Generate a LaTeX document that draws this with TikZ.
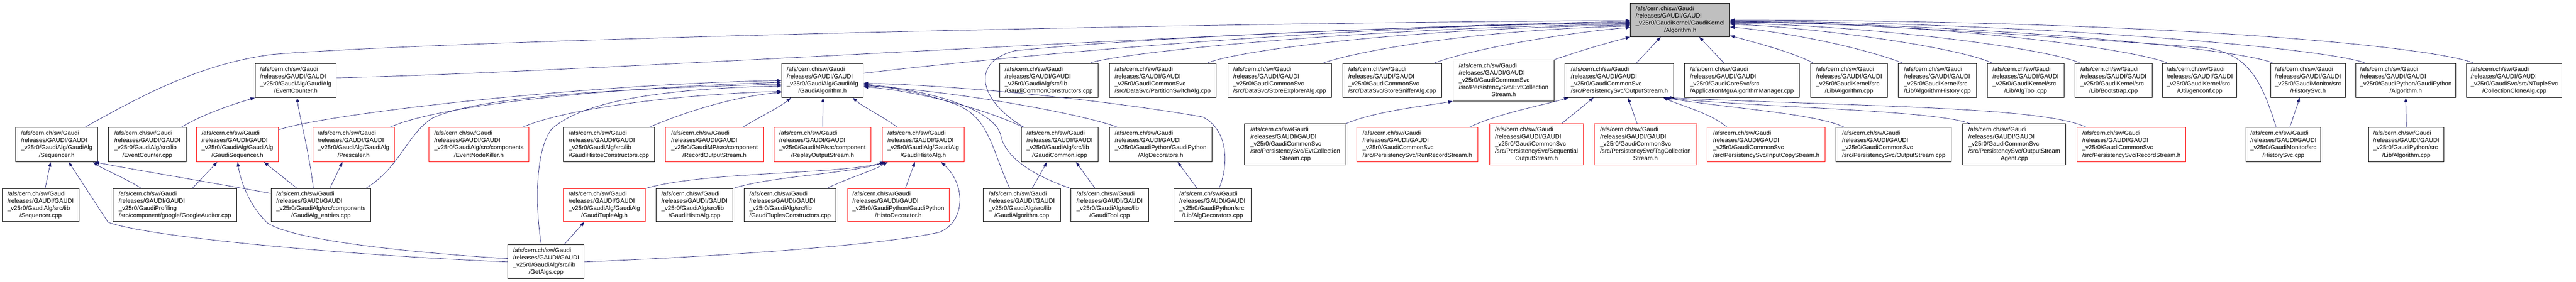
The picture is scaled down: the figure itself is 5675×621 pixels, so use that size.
\documentclass[tikz,border=0pt]{standalone}
\usepackage{fontspec}
\setmainfont{Liberation Sans}
\usetikzlibrary{arrows.meta}
\definecolor{edgec}{HTML}{191970}
\definecolor{redc}{HTML}{FF0000}
\definecolor{grayc}{HTML}{BFBFBF}
\newcommand\lastln[1]{\multicolumn{1}{@{}c@{}}{#1}}
\newcommand\ftxt[2]{\begin{tabular}{@{}l@{}}/afs/cern.ch/sw/Gaudi\\/releases/GAUDI/GAUDI\\#1\\\lastln{#2}\end{tabular}}
\newcommand\ftxtv[3]{\begin{tabular}{@{}l@{}}/afs/cern.ch/sw/Gaudi\\/releases/GAUDI/GAUDI\\#1\\#2\\\lastln{#3}\end{tabular}}
\newcommand\mknode[7]{\node[#2, minimum width={#5-#3}, minimum height={#6-#4}] (#1) at ({(#3+#5)/2},{(#4+#6)/2}) {#7};}
\tikzset{
  fbox/.style={draw=black, line width=1pt, inner sep=0pt, fill=white, font=\fontsize{13.3}{16}\selectfont},
  rbox/.style={fbox, draw=redc},
  gbox/.style={fbox, fill=grayc},
  dep/.style={draw=edgec, line width=0.8pt, -{Triangle[length=10pt,width=7pt]}}
}
\begin{document}
\begin{tikzpicture}[x=1pt,y=-1pt]
\useasboundingbox[fill=white] (0,0) rectangle (5675,621);
% level 0
\mknode{alg}{gbox}{3592}{7}{3811}{81}{\ftxt{\_v25r0/GaudiKernel/GaudiKernel}{/Algorithm.h}}
% level 1
\mknode{ech}{fbox}{562}{140}{741}{215}{\ftxt{\_v25r0/GaudiAlg/GaudiAlg}{/EventCounter.h}}
\mknode{gah}{fbox}{1722}{140}{1902}{215}{\ftxt{\_v25r0/GaudiAlg/GaudiAlg}{/GaudiAlgorithm.h}}
\mknode{gcc}{fbox}{2202}{140}{2419}{215}{\ftxt{\_v25r0/GaudiAlg/src/lib}{/GaudiCommonConstructors.cpp}}
\mknode{psa}{fbox}{2444}{140}{2679}{215}{\ftxt{\_v25r0/GaudiCommonSvc}{/src/DataSvc/PartitionSwitchAlg.cpp}}
\mknode{sea}{fbox}{2705}{140}{2933}{215}{\ftxt{\_v25r0/GaudiCommonSvc}{/src/DataSvc/StoreExplorerAlg.cpp}}
\mknode{ssa}{fbox}{2958}{140}{3176}{215}{\ftxt{\_v25r0/GaudiCommonSvc}{/src/DataSvc/StoreSnifferAlg.cpp}}
\mknode{ecsh}{fbox}{3201}{132}{3424}{223}{\ftxtv{\_v25r0/GaudiCommonSvc}{/src/PersistencySvc/EvtCollection}{Stream.h}}
\mknode{osh}{fbox}{3448}{140}{3687}{215}{\ftxt{\_v25r0/GaudiCommonSvc}{/src/PersistencySvc/OutputStream.h}}
\mknode{amc}{fbox}{3711}{140}{3964}{215}{\ftxt{\_v25r0/GaudiCoreSvc/src}{/ApplicationMgr/AlgorithmManager.cpp}}
\mknode{algc}{fbox}{3989}{140}{4158}{215}{\ftxt{\_v25r0/GaudiKernel/src}{/Lib/Algorithm.cpp}}
\mknode{ahc}{fbox}{4182}{140}{4354}{215}{\ftxt{\_v25r0/GaudiKernel/src}{/Lib/AlgorithmHistory.cpp}}
\mknode{atc}{fbox}{4378}{140}{4547}{215}{\ftxt{\_v25r0/GaudiKernel/src}{/Lib/AlgTool.cpp}}
\mknode{bsc}{fbox}{4571}{140}{4741}{215}{\ftxt{\_v25r0/GaudiKernel/src}{/Lib/Bootstrap.cpp}}
\mknode{gcf}{fbox}{4764}{140}{4928}{215}{\ftxt{\_v25r0/GaudiKernel/src}{/Util/genconf.cpp}}
\mknode{hsh}{fbox}{5002}{140}{5167}{215}{\ftxt{\_v25r0/GaudiMonitor/src}{/HistorySvc.h}}
\mknode{gpah}{fbox}{5190}{140}{5410}{215}{\ftxt{\_v25r0/GaudiPython/GaudiPython}{/Algorithm.h}}
\mknode{cca}{fbox}{5434}{140}{5644}{215}{\ftxt{\_v25r0/GaudiSvc/src/NTupleSvc}{/CollectionCloneAlg.cpp}}
% level 2
\mknode{seqh}{fbox}{35}{281}{215}{357}{\ftxt{\_v25r0/GaudiAlg/GaudiAlg}{/Sequencer.h}}
\mknode{ecc}{fbox}{239}{281}{410}{357}{\ftxt{\_v25r0/GaudiAlg/src/lib}{/EventCounter.cpp}}
\mknode{gsh}{rbox}{433}{281}{613}{357}{\ftxt{\_v25r0/GaudiAlg/GaudiAlg}{/GaudiSequencer.h}}
\mknode{prh}{rbox}{689}{281}{869}{357}{\ftxt{\_v25r0/GaudiAlg/GaudiAlg}{/Prescaler.h}}
\mknode{enk}{rbox}{945}{281}{1165}{357}{\ftxt{\_v25r0/GaudiAlg/src/components}{/EventNodeKiller.h}}
\mknode{ghc}{fbox}{1241}{281}{1442}{357}{\ftxt{\_v25r0/GaudiAlg/src/lib}{/GaudiHistosConstructors.cpp}}
\mknode{rosh}{rbox}{1466}{281}{1682}{357}{\ftxt{\_v25r0/GaudiMP/src/component}{/RecordOutputStream.h}}
\mknode{rpsh}{rbox}{1705}{281}{1919}{357}{\ftxt{\_v25r0/GaudiMP/src/component}{/ReplayOutputStream.h}}
\mknode{ghah}{rbox}{1944}{281}{2124}{357}{\ftxt{\_v25r0/GaudiAlg/GaudiAlg}{/GaudiHistoAlg.h}}
\mknode{gci}{fbox}{2250}{281}{2419}{357}{\ftxt{\_v25r0/GaudiAlg/src/lib}{/GaudiCommon.icpp}}
\mknode{adh}{fbox}{2444}{281}{2670}{357}{\ftxt{\_v25r0/GaudiPython/GaudiPython}{/AlgDecorators.h}}
\mknode{ecsc}{fbox}{2742}{273}{2965}{364}{\ftxtv{\_v25r0/GaudiCommonSvc}{/src/PersistencySvc/EvtCollection}{Stream.cpp}}
\mknode{rrsh}{rbox}{2989}{281}{3256}{357}{\ftxt{\_v25r0/GaudiCommonSvc}{/src/PersistencySvc/RunRecordStream.h}}
\mknode{sosh}{rbox}{3282}{273}{3488}{364}{\ftxtv{\_v25r0/GaudiCommonSvc}{/src/PersistencySvc/Sequential}{OutputStream.h}}
\mknode{tcsh}{rbox}{3512}{273}{3738}{364}{\ftxtv{\_v25r0/GaudiCommonSvc}{/src/PersistencySvc/TagCollection}{Stream.h}}
\mknode{icsh}{rbox}{3761}{281}{4021}{357}{\ftxt{\_v25r0/GaudiCommonSvc}{/src/PersistencySvc/InputCopyStream.h}}
\mknode{osc}{fbox}{4045}{281}{4299}{357}{\ftxt{\_v25r0/GaudiCommonSvc}{/src/PersistencySvc/OutputStream.cpp}}
\mknode{osac}{fbox}{4324}{273}{4551}{364}{\ftxtv{\_v25r0/GaudiCommonSvc}{/src/PersistencySvc/OutputStream}{Agent.cpp}}
\mknode{rsh}{rbox}{4576}{281}{4815}{357}{\ftxt{\_v25r0/GaudiCommonSvc}{/src/PersistencySvc/RecordStream.h}}
\mknode{hsc}{fbox}{4948}{281}{5113}{357}{\ftxt{\_v25r0/GaudiMonitor/src}{/HistorySvc.cpp}}
\mknode{gpac}{fbox}{5218}{281}{5384}{357}{\ftxt{\_v25r0/GaudiPython/src}{/Lib/Algorithm.cpp}}
% level 3
\mknode{seqc}{fbox}{5}{416}{174}{489}{\ftxt{\_v25r0/GaudiAlg/src/lib}{/Sequencer.cpp}}
\mknode{gac}{fbox}{249}{416}{522}{489}{\ftxt{\_v25r0/GaudiProfiling}{/src/component/google/GoogleAuditor.cpp}}
\mknode{gae}{fbox}{597}{416}{817}{489}{\ftxt{\_v25r0/GaudiAlg/src/components}{/GaudiAlg\_entries.cpp}}
\mknode{gtah}{rbox}{1241}{416}{1422}{489}{\ftxt{\_v25r0/GaudiAlg/GaudiAlg}{/GaudiTupleAlg.h}}
\mknode{ghac}{fbox}{1445}{416}{1615}{489}{\ftxt{\_v25r0/GaudiAlg/src/lib}{/GaudiHistoAlg.cpp}}
\mknode{gtc}{fbox}{1639}{416}{1842}{489}{\ftxt{\_v25r0/GaudiAlg/src/lib}{/GaudiTuplesConstructors.cpp}}
\mknode{hdh}{rbox}{1867}{416}{2091}{489}{\ftxt{\_v25r0/GaudiPython/GaudiPython}{/HistoDecorator.h}}
\mknode{gacpp}{fbox}{2166}{416}{2336}{489}{\ftxt{\_v25r0/GaudiAlg/src/lib}{/GaudiAlgorithm.cpp}}
\mknode{gtool}{fbox}{2359}{416}{2530}{489}{\ftxt{\_v25r0/GaudiAlg/src/lib}{/GaudiTool.cpp}}
\mknode{adc}{fbox}{2586}{416}{2756}{489}{\ftxt{\_v25r0/GaudiPython/src}{/Lib/AlgDecorators.cpp}}
% level 4
\mknode{gal}{fbox}{1119}{540}{1287}{615}{\ftxt{\_v25r0/GaudiAlg/src/lib}{/GetAlgs.cpp}}

% ---- edges to Algorithm.h
\draw[dep] ([xshift=153]seqh.north west) .. controls (330,200) and (450,140) .. (600,120) .. controls (1000,88) and (2600,50) .. ([yshift=-39]alg.north west);
\draw[dep] ([yshift=-32]ech.north east) .. controls (1300,160) and (2800,60) .. ([yshift=-41]alg.north west);
\draw[dep] ([yshift=-22]gah.north east) .. controls (2300,115) and (3000,55) .. ([yshift=-43]alg.north west);
\draw[dep] ([xshift=6]gci.north west) .. controls (2165,228) and (2130,140) .. (2235,112) .. controls (2500,85) and (3100,55) .. ([yshift=-45]alg.north west);
\draw[dep] ([xshift=199]gcc.north west) .. controls (2450,118) and (3000,60) .. ([yshift=-47]alg.north west);
\draw[dep] ([xshift=215]psa.north west) .. controls (2720,112) and (3100,62) .. ([yshift=-49]alg.north west);
\draw[dep] ([xshift=209]sea.north west) .. controls (2990,112) and (3250,66) .. ([yshift=-51]alg.north west);
\draw[dep] ([xshift=201]ssa.north west) .. controls (3240,108) and (3450,72) .. ([yshift=-54]alg.north west);
\draw[dep] (ecsh.north east) .. controls (3480,112) and (3540,95) .. (alg.south west);
\draw[dep] ([xshift=157]osh.north west) -- ([xshift=67]alg.south west);
\draw[dep] ([xshift=88]amc.north west) -- ([xshift=152]alg.south west);
\draw[dep] ([xshift=7]algc.north west) .. controls (3950,115) and (3870,95) .. ([yshift=3]alg.south east);
\draw[dep] ([xshift=11]ahc.north west) .. controls (4120,110) and (3950,72) .. ([yshift=-53]alg.north east);
\draw[dep] ([xshift=12]atc.north west) .. controls (4320,105) and (4000,60) .. ([yshift=-47]alg.north east);
\draw[dep] ([xshift=13]bsc.north west) .. controls (4510,105) and (4100,55) .. ([yshift=-45]alg.north east);
\draw[dep] ([xshift=12]gcf.north west) .. controls (4720,112) and (4300,50) .. ([yshift=-43]alg.north east);
\draw[dep] ([xshift=7]hsh.north west) .. controls (4940,108) and (4400,55) .. ([yshift=-41]alg.north east);
\draw[dep] ([xshift=22]gpah.north west) .. controls (5140,108) and (4500,50) .. ([yshift=-40]alg.north east);
\draw[dep] ([xshift=17]cca.north west) .. controls (5370,105) and (4800,45) .. ([yshift=-38]alg.north east);
\draw[dep] ([xshift=67]hsc.north west) .. controls (4980,170) and (4950,120) .. (4860,105) .. controls (4500,80) and (4100,50) .. ([yshift=-42]alg.north east);
% ---- edges to GaudiAlgorithm.h
\draw[dep] ([yshift=-6]gsh.north east) .. controls (720,250) and (1300,185) .. ([yshift=-38]gah.north west);
\draw[dep] ([xshift=171]prh.north west) .. controls (960,235) and (1300,195) .. ([yshift=-42]gah.north west);
\draw[dep] ([xshift=209]gae.north west) .. controls (880,370) and (895,300) .. (950,262) .. controls (1050,210) and (1400,195) .. ([yshift=-46]gah.north west);
\draw[dep] ([xshift=207]enk.north west) .. controls (1250,238) and (1500,208) .. ([yshift=-62]gah.north west);
\draw[dep] ([xshift=74]gal.north west) .. controls (1178,450) and (1180,330) .. (1215,285) .. controls (1280,225) and (1450,196) .. ([yshift=-50]gah.north west);
\draw[dep] ([xshift=190]ghc.north west) .. controls (1490,255) and (1600,215) .. ([yshift=-64]gah.north west);
\draw[dep] ([xshift=171]rosh.north west) .. controls (1670,260) and (1720,235) .. ([xshift=21]gah.south west);
\draw[dep] ([xshift=108]rpsh.north west) -- ([xshift=1]gah.south);
\draw[dep] ([xshift=33]ghah.north west) .. controls (1950,260) and (1900,235) .. ([xshift=157]gah.south west);
\draw[dep] ([xshift=59]gacpp.north west) .. controls (2185,330) and (2180,262) .. (2110,232) .. controls (2040,205) and (1960,192) .. ([yshift=-48]gah.north east);
\draw[dep] (gtool.north west) .. controls (2270,385) and (2215,345) .. (2205,300) .. controls (2195,245) and (2060,200) .. ([yshift=-46]gah.north east);
\draw[dep] ([xshift=4]gci.north west) .. controls (2160,235) and (2000,198) .. ([yshift=-52]gah.north east);
\draw[dep] ([xshift=18]adh.north west) .. controls (2380,250) and (2100,200) .. ([yshift=-50]gah.north east);
\draw[dep] ([xshift=100]adc.north west) .. controls (2705,370) and (2710,290) .. (2650,258) .. controls (2420,218) and (2100,188) .. ([yshift=-44]gah.north east);
% ---- EventCounter.h
\draw[dep] ([xshift=161]ecc.north west) .. controls (450,250) and (520,228) .. (ech.south west);
\draw[dep] ([xshift=94]gae.north west) .. controls (680,330) and (660,260) .. ([xshift=93]ech.south west);
% ---- Sequencer.h
\draw[dep] ([xshift=95]seqc.north west) -- ([xshift=77]seqh.south west);
\draw[dep] ([xshift=63]gac.north west) .. controls (280,395) and (225,372) .. ([xshift=171]seqh.south west);
\draw[dep] ([yshift=-11]gae.north west) .. controls (450,400) and (300,375) .. ([xshift=174]seqh.south west);
\draw[dep] (gal.west) .. controls (800,565) and (330,525) .. (238,490) -- ([xshift=117]seqh.south west);
% ---- GaudiSequencer.h
\draw[dep] ([xshift=175]gac.north west) -- ([xshift=46]gsh.south west);
\draw[dep] ([yshift=7]gal.west) .. controls (800,550) and (625,520) .. (587,490) .. controls (548,450) and (530,400) .. ([xshift=91]gsh.south west);
\draw[dep] ([xshift=58]gae.north west) -- ([xshift=149]gsh.south west);
% ---- Prescaler.h
\draw[dep] ([xshift=130]gae.north west) -- ([xshift=66]prh.south west);
% ---- GaudiTupleAlg.h
\draw[dep] ([xshift=124]gal.north west) -- ([xshift=47]gtah.south west);
% ---- GaudiHistoAlg.h
\draw[dep] (gtah.north east) .. controls (1550,378) and (1850,385) .. ([xshift=5]ghah.south west);
\draw[dep] (ghac.north east) .. controls (1700,388) and (1860,385) .. ([xshift=8]ghah.south west);
\draw[dep] ([xshift=183]gtc.north west) .. controls (1862,395) and (1920,378) .. ([xshift=12]ghah.south west);
\draw[dep] ([xshift=128]hdh.north west) -- ([xshift=72]ghah.south west);
\draw[dep] (gal.east) .. controls (1600,565) and (1950,540) .. (2070,512) .. controls (2125,490) and (2130,410) .. ([xshift=130]ghah.south west);
% ---- GaudiCommon.icpp
\draw[dep] ([xshift=108]gacpp.north west) -- ([xshift=57]gci.south west);
\draw[dep] ([xshift=54]gtool.north west) -- ([xshift=121]gci.south west);
% ---- AlgDecorators.h
\draw[dep] ([xshift=52]adc.north west) -- ([xshift=151]adh.south west);
% ---- EvtCollectionStream.h
\draw[dep] (ecsc.north east) .. controls (3030,245) and (3150,232) .. (ecsh.south west);
% ---- OutputStream.h
\draw[dep] ([xshift=249]rrsh.north west) .. controls (3300,250) and (3400,232) .. ([xshift=8]osh.south west);
\draw[dep] ([xshift=159]sosh.north west) -- ([xshift=63]osh.south west);
\draw[dep] ([xshift=95]tcsh.north west) -- ([xshift=139]osh.south west);
\draw[dep] ([xshift=44]icsh.north west) .. controls (3770,250) and (3700,232) .. ([xshift=217]osh.south west);
\draw[dep] ([xshift=18]osc.north west) .. controls (4000,250) and (3800,238) .. ([xshift=220]osh.south west);
\draw[dep] ([xshift=16]osac.north west) .. controls (4260,242) and (3850,236) .. ([xshift=222]osh.south west);
\draw[dep] ([xshift=20]rsh.north west) .. controls (4500,235) and (4100,235) .. ([xshift=224]osh.south west);
% ---- HistorySvc.h, GaudiPython Algorithm.h
\draw[dep] ([xshift=97]hsc.north west) -- ([xshift=65]hsh.south west);
\draw[dep] (gpac.north) -- (gpah.south);
\end{tikzpicture}
\end{document}
